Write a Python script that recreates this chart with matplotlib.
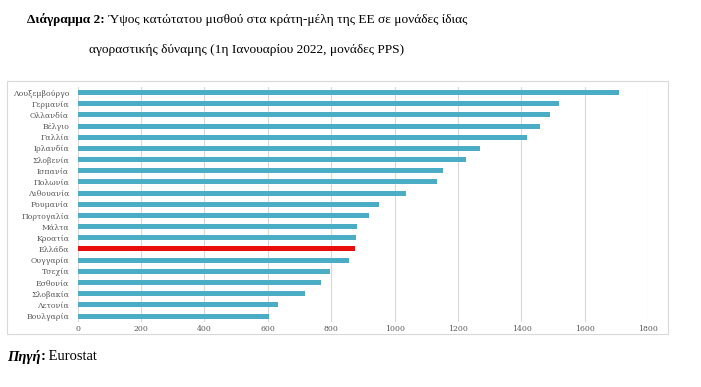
import matplotlib
matplotlib.use("Agg")
import numpy as np
from matplotlib import pyplot as plt
from matplotlib.patches import Rectangle

###################### data #############################
countries = ["Λουξεμβούργο", "Γερμανία", "Ολλανδία", "Βέλγιο", "Γαλλία", "Ιρλανδία",
             "Σλοβενία", "Ισπανία", "Πολωνία", "Λιθουανία", "Ρουμανία", "Πορτογαλία",
             "Μάλτα", "Κροατία", "Ελλάδα", "Ουγγαρία", "Τσεχία", "Εσθονία",
             "Σλοβακία", "Λετονία", "Βουλγαρία"]
values = [1707, 1517, 1489, 1458, 1419, 1268, 1225, 1154, 1133, 1037, 950, 919,
          882, 877, 875, 857, 795, 767, 717, 633, 604]
highlight = "Ελλάδα"
xticks = [0, 200, 400, 600, 800, 1000, 1200, 1400, 1600, 1800]

title_bold = "Διάγραμμα 2:"
title_rest = " Ύψος κατώτατου μισθού στα κράτη-μέλη της ΕΕ σε μονάδες ίδιας"
title_line2 = "αγοραστικής δύναμης (1η Ιανουαρίου 2022, μονάδες PPS)"

######################## figure ##########################
W, H = 701, 387
fig = plt.figure(figsize=(W / 100, H / 100), dpi=100)

def fx(px):
    return px / W

def fy(py):
    return 1 - py / H

# chart frame (light grey border like the Excel chart area)
fig.patches.append(Rectangle((fx(6.7), fy(334)), fx(668) - fx(6.7), fy(81) - fy(334),
                             transform=fig.transFigure, fill=False,
                             edgecolor="#d9d9d9", linewidth=0.8))

ax = fig.add_axes([fx(77.5), fy(321.6), fx(648.3) - fx(77.5), fy(87) - fy(321.6)])

pos = np.arange(len(countries))
colors = ["#e80c0c" if c == highlight else "#4bacc6" for c in countries]
ax.barh(pos, values, height=0.45, color=colors, zorder=3)
ax.set_ylim(len(countries) - 0.5, -0.5)
ax.set_xlim(0, 1800)
ax.set_yticks(pos)
ax.set_yticklabels(countries, fontsize=5.6, color="#595959", family="DejaVu Serif")
ax.set_xticks(xticks)
ax.set_xticklabels([str(t) for t in xticks], fontsize=5.6, color="#595959",
                   family="DejaVu Serif")
ax.tick_params(axis="x", length=0, pad=2.5)
ax.tick_params(axis="y", length=0, pad=6)
ax.grid(axis="x", color="#d9d9d9", linewidth=0.8, zorder=0)
for s in ax.spines.values():
    s.set_visible(False)

# title: bold part + normal part, two lines
fig.canvas.draw()
r = fig.canvas.get_renderer()
serif = "Liberation Serif"
tsize = 9.6
t1 = fig.text(0, fy(20), title_bold, fontsize=tsize, fontweight="bold", family=serif, va="center")
t2 = fig.text(0, fy(20), title_rest, fontsize=tsize, family=serif, va="center")
w1 = t1.get_window_extent(r).width
w2 = t2.get_window_extent(r).width
x0 = 247 - (w1 + w2) / 2
t1.set_x(fx(x0))
t2.set_x(fx(x0 + w1))
fig.text(fx(247), fy(50), title_line2, fontsize=tsize, family=serif, ha="center", va="center")

# source
ssize = 10.5
s1 = fig.text(fx(7), fy(357), "Πηγή", fontsize=ssize, fontweight="bold", style="italic",
              family=serif, va="center")
ws1 = s1.get_window_extent(r).width
s2 = fig.text(fx(7 + ws1), fy(357), ":", fontsize=ssize, fontweight="bold", family=serif, va="center")
ws2 = s2.get_window_extent(r).width
fig.text(fx(7 + ws1 + ws2), fy(357), " Eurostat", fontsize=ssize, family=serif, va="center")

fig.savefig("out.png", dpi=100)
